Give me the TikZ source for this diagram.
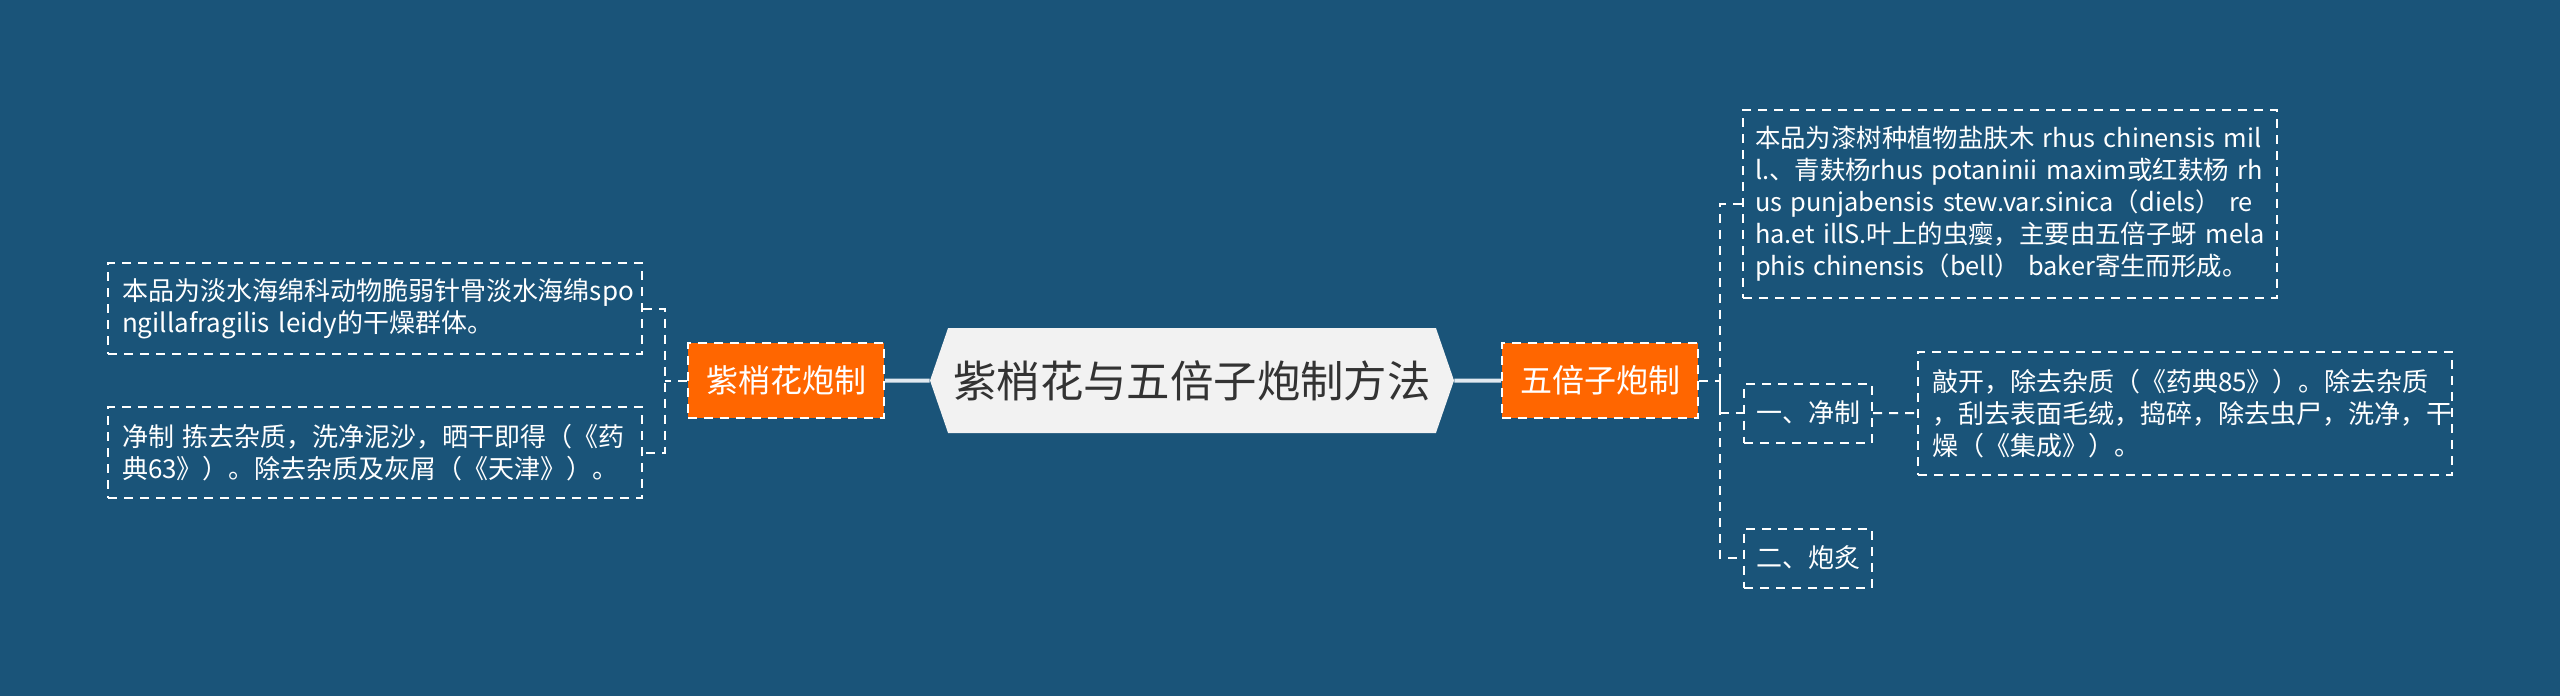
\documentclass[tikz,border=0pt]{standalone}
\usepackage{fontspec}
\setmainfont{Noto Sans CJK SC}
\usetikzlibrary{shapes.symbols}
\hyphenpenalty=10000
\exhyphenpenalty=10000
\definecolor{bgblue}{RGB}{26,84,121}
\definecolor{topicorange}{RGB}{255,102,0}
\definecolor{rootgray}{RGB}{242,242,242}
\definecolor{roottext}{RGB}{51,51,51}
\definecolor{rootline}{RGB}{224,233,240}
\tikzset{
  dashline/.style={draw=white, line width=1pt, dash pattern=on 4.5pt off 3.5pt},
  rootbox/.style={signal, signal to=east and west, signal pointer angle=142,
    fill=rootgray, text=roottext, inner sep=0pt, minimum width=262pt,
    minimum height=52.5pt, font=\fontsize{21.7pt}{26pt}\selectfont},
  topicbox/.style={dashline, fill=topicorange, text=white, inner sep=0pt,
    minimum width=98pt, minimum height=37.5pt, font=\fontsize{16pt}{19pt}\selectfont},
  leafbox/.style={dashline, text=white, align=left, text width=253pt,
    inner xsep=7pt, inner ysep=0pt, font=\fontsize{13pt}{16pt}\selectfont},
  tagbox/.style={dashline, text=white, inner sep=0pt, minimum width=64pt,
    minimum height=29.5pt, font=\fontsize{13pt}{16pt}\selectfont}
}
\begin{document}
\begin{tikzpicture}[x=0.5pt,y=-0.5pt]
\fill[bgblue] (0,0) rectangle (2560,696);
\useasboundingbox (0,0) rectangle (2560,696);
% root and main branches
\node[rootbox] (root) at (1192,380.5) {紫梢花与五倍子炮制方法};
\node[topicbox] (ltopic) at (786,380.5) {紫梢花炮制};
\node[topicbox] (rtopic) at (1600,380.5) {五倍子炮制};
\draw[rootline, line width=2pt] (root) -- (ltopic);
\draw[rootline, line width=2pt] (root) -- (rtopic);
% left side
\node[leafbox, minimum height=45.5pt] (lleaf1) at (375,308.5)
  {本品为淡水海绵科动物脆弱针骨淡水海绵spo\\ngillafragilis~leidy的干燥群体。};
\node[leafbox, minimum height=45.5pt] (lleaf2) at (375,452.5)
  {净制~拣去杂质，洗净泥沙，晒干即得（《药\\典63》）。除去杂质及灰屑（《天津》）。};
\coordinate (lfork) at (665,380.5);
\draw[dashline] (ltopic) -- (lfork);
\draw[dashline] (lleaf1.east) -| (lfork) |- (lleaf2.east);
% right side
\node[leafbox, minimum height=94pt, text width=255pt, inner xsep=6pt,
  font=\fontsize{12.7pt}{16pt}\selectfont] (rleaf) at (2010,204)
  {本品为漆树种植物盐肤木~rhus~chinensis~mil\\l.、青麸杨rhus~potaninii~maxim或红麸杨~rh\\us~punjabensis~stew.var.sinica（diels）~re\\ha.et~illS.叶上的虫瘿，主要由五倍子蚜~mela\\phis~chinensis（bell）~baker寄生而形成。};
\node[tagbox] (rtag1) at (1808,413) {一、净制};
\node[tagbox] (rtag2) at (1808,558) {二、炮炙};
\node[leafbox, minimum height=61.5pt] (rstep) at (2185,413.5)
  {敲开，除去杂质（《药典85》）。除去杂质\\，刮去表面毛绒，捣碎，除去虫尸，洗净，干\\燥（《集成》）。};
\coordinate (rfork) at (1720,380.5);
\draw[dashline] (rtopic) -- (rfork);
\draw[dashline] (rleaf.west) -| (rfork) |- (rtag2.west);
\draw[dashline] (rfork) |- (rtag1.west);
\draw[dashline] (rtag1) -- (rstep);
\end{tikzpicture}
\end{document}
